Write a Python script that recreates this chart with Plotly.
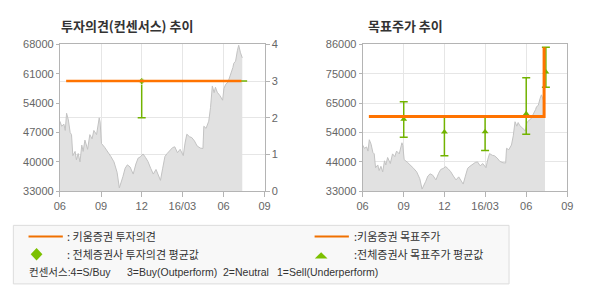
import plotly.graph_objects as go

# ---------------- data ----------------
price_dates = [
    "2015-06-01", "2015-06-05", "2015-06-10", "2015-06-13", "2015-06-16", "2015-06-20",
    "2015-06-24", "2015-06-27", "2015-06-30", "2015-07-05", "2015-07-08", "2015-07-12",
    "2015-07-16", "2015-07-20", "2015-07-23", "2015-07-27", "2015-08-02", "2015-08-07",
    "2015-08-12", "2015-08-16", "2015-08-22", "2015-08-28", "2015-08-30", "2015-09-02",
    "2015-09-09", "2015-09-16", "2015-09-23", "2015-09-30", "2015-10-07", "2015-10-12",
    "2015-10-16", "2015-10-20", "2015-10-25", "2015-10-30", "2015-11-05", "2015-11-12",
    "2015-11-18", "2015-11-23", "2015-11-28", "2015-12-04", "2015-12-10", "2015-12-15",
    "2015-12-21", "2015-12-27", "2016-01-02", "2016-01-07", "2016-01-12", "2016-01-17",
    "2016-01-22", "2016-01-27", "2016-02-02", "2016-02-08", "2016-02-13", "2016-02-19",
    "2016-02-25", "2016-03-03", "2016-03-07", "2016-03-11", "2016-03-17", "2016-03-22",
    "2016-03-28", "2016-04-03", "2016-04-10", "2016-04-16", "2016-04-18", "2016-04-23",
    "2016-04-29", "2016-05-03", "2016-05-07", "2016-05-11", "2016-05-14", "2016-05-18",
    "2016-05-24", "2016-05-30", "2016-06-02", "2016-06-06", "2016-06-11", "2016-06-16",
    "2016-06-22", "2016-06-24", "2016-06-28", "2016-07-02", "2016-07-05", "2016-07-09",
    "2016-07-13",
]
price_vals = [
    49700, 48500, 49000, 47500, 51600, 50000,
    47000, 46500, 41500, 42500, 40500, 42000,
    40000, 44000, 42500, 45200, 43000, 46500,
    45500, 47500, 46500, 50500, 49500, 44400,
    43500, 42500, 41300, 40000, 37500, 33800,
    35500, 36500, 38500, 39300, 38800, 37100,
    39500, 40900, 41200, 41900, 41000, 40100,
    38500, 37100, 38200, 37000, 35600, 38500,
    41300, 42000, 42800, 43400, 43600, 42200,
    43000, 41500, 44500, 46600, 46000, 45800,
    45000, 43800, 43300, 43200, 48500, 48000,
    49700, 53000, 58100, 56500, 57800, 56600,
    55800, 54700, 57500, 58500, 59000, 60500,
    62500, 63500, 64000, 66500, 67800, 66000,
    64800,
]

# Kiwoom investment opinion (3 = Buy) and target price
kiwoom_dates = ["2015-06-15", "2016-07-11"]
kiwoom_opinion = [3, 3]
target_dates = ["2015-06-15", "2016-07-11"]
target_vals = [60000, 85000]

# consensus opinion (avg / min / max)
op_cons_dates = ["2015-12-01", "2016-07-15"]
op_cons_avg = [3, 3]
op_cons_min = [2, 3]
op_cons_max = [3, 3]

# consensus target price (avg / min / max)
tp_cons_dates = ["2015-09-01", "2015-12-01", "2016-03-01", "2016-06-01", "2016-07-15"]
tp_cons_avg = [59000, 54400, 54500, 61000, 76000]
tp_cons_min = [52500, 45800, 47700, 53600, 70500]
tp_cons_max = [65300, 60000, 60000, 74000, 85000]

x_tick_dates = ["2015-06-01", "2015-09-01", "2015-12-01", "2016-03-01", "2016-06-01", "2016-09-01"]
x_tick_text = ["06", "09", "12", "16/03", "06", "09"]
left_price_ticks = [33000, 40000, 47000, 54000, 61000, 68000]
opinion_ticks = [0, 1, 2, 3, 4]
right_price_ticks = [33000, 43600, 54200, 64800, 75400, 86000]
right_price_text = ["33000", "44000", "54000", "65000", "75000", "86000"]

# ---------------- styles ----------------
W, H = 590, 300
ORANGE = "#ff7300"
GREEN = "#72b300"
GREEN_MK = "#7cc000"
AREA_LINE = "#c2c2c2"
AREA_FILL = "#e1e1e1"
GRID = "#e6e6e6"
AXIS = "#b4b4b4"
TICKFONT = dict(family="Liberation Sans, Arial", size=11, color="#666666")
KFONT = "Noto Sans CJK KR"
MIXFONT = "Liberation Sans, Noto Sans CJK KR"


def px(x):
    return x / W


def py(y):
    return 1 - y / H


fig = go.Figure()

# left chart
fig.add_trace(go.Scatter(
    x=price_dates, y=price_vals, xaxis="x", yaxis="y", mode="lines",
    line=dict(color=AREA_LINE, width=1), fill="tozeroy", fillcolor=AREA_FILL,
    hoverinfo="skip", showlegend=False))
fig.add_trace(go.Scatter(
    x=op_cons_dates, y=op_cons_avg, xaxis="x", yaxis="y2", mode="markers",
    marker=dict(symbol="diamond", size=[6, 0], color=GREEN),
    error_y=dict(type="data", symmetric=False,
                 array=[a - b for a, b in zip(op_cons_max, op_cons_avg)],
                 arrayminus=[a - b for a, b in zip(op_cons_avg, op_cons_min)],
                 color=GREEN, thickness=1.5, width=4),
    showlegend=False))
fig.add_trace(go.Scatter(
    x=kiwoom_dates, y=kiwoom_opinion, xaxis="x", yaxis="y2", mode="lines",
    line=dict(color=ORANGE, width=2.5, shape="hv"), showlegend=False))

# right chart
fig.add_trace(go.Scatter(
    x=price_dates, y=price_vals, xaxis="x2", yaxis="y3", mode="lines",
    line=dict(color=AREA_LINE, width=1), fill="tozeroy", fillcolor=AREA_FILL,
    hoverinfo="skip", showlegend=False))
fig.add_trace(go.Scatter(
    x=tp_cons_dates, y=tp_cons_avg, xaxis="x2", yaxis="y3", mode="markers",
    marker=dict(symbol="triangle-up", size=6, color=GREEN),
    error_y=dict(type="data", symmetric=False,
                 array=[a - b for a, b in zip(tp_cons_max, tp_cons_avg)],
                 arrayminus=[a - b for a, b in zip(tp_cons_avg, tp_cons_min)],
                 color=GREEN, thickness=1.5, width=4),
    showlegend=False))
fig.add_trace(go.Scatter(
    x=target_dates, y=target_vals, xaxis="x2", yaxis="y3", mode="lines",
    line=dict(color=ORANGE, width=3, shape="hv"), showlegend=False))

xcommon = dict(type="date", range=["2015-06-01", "2016-09-01"],
               tickmode="array", tickvals=x_tick_dates, ticktext=x_tick_text,
               showgrid=True, gridcolor=GRID, gridwidth=1,
               showline=True, linecolor=AXIS, linewidth=1, mirror=True,
               ticks="outside", ticklen=5, tickcolor=AXIS,
               tickfont=TICKFONT, zeroline=False, fixedrange=True)
ydom = [py(193), py(40)]

fig.update_layout(
    width=W, height=H, autosize=False,
    margin=dict(l=0, r=0, t=0, b=0, pad=0),
    paper_bgcolor="white", plot_bgcolor="white",
    showlegend=False,
    xaxis=dict(domain=[px(55), px(264)], anchor="y", **xcommon),
    yaxis=dict(domain=ydom, anchor="x", range=[33000, 68000],
               tickmode="array", tickvals=left_price_ticks,
               ticktext=[str(v) for v in left_price_ticks],
               showgrid=False, zeroline=False,
               showline=True, linecolor=AXIS, linewidth=1, mirror=True,
               ticks="outside", ticklen=3, tickcolor=AXIS, tickfont=TICKFONT),
    yaxis2=dict(overlaying="y", anchor="x", side="right", range=[0, 4],
                tickmode="array", tickvals=opinion_ticks,
                showgrid=True, gridcolor=GRID, zeroline=False,
                showline=True, linecolor=AXIS, linewidth=1,
                ticks="outside", ticklen=4, tickcolor=AXIS, tickfont=TICKFONT),
    xaxis2=dict(domain=[px(364), px(573)], anchor="y3", **xcommon),
    yaxis3=dict(domain=ydom, anchor="x2", range=[33000, 86000],
                tickmode="array", tickvals=right_price_ticks, ticktext=right_price_text,
                showgrid=True, gridcolor=GRID, zeroline=False,
                showline=True, linecolor=AXIS, linewidth=1, mirror=True,
                ticks="outside", ticklen=3, tickcolor=AXIS, tickfont=TICKFONT),
)

# titles
ann = []
ann.append(dict(text="<b>투자의견(컨센서스) 추이</b>", x=px(54), y=py(20), xref="paper", yref="paper",
                xanchor="left", yanchor="middle", showarrow=False,
                font=dict(family=KFONT, size=13, color="#333333")))
ann.append(dict(text="<b>목표주가 추이</b>", x=px(367), y=py(20), xref="paper", yref="paper",
                xanchor="left", yanchor="middle", showarrow=False,
                font=dict(family=KFONT, size=13, color="#333333")))

# legend box
shapes = []
shapes.append(dict(type="rect", xref="paper", yref="paper",
                   x0=px(7.5), x1=px(513.5), y0=py(289.5), y1=py(228.5),
                   fillcolor="#f8f8f8", line=dict(color="#dcdcdc", width=1), layer="below"))
for x0 in (23, 315):
    shapes.append(dict(type="line", xref="paper", yref="paper",
                       x0=px(x0), x1=px(x0 + 35), y0=py(240), y1=py(240),
                       line=dict(color="#f07000", width=2)))
# diamond
cx, cy = 31.2, 258.5
shapes.append(dict(type="path", xref="paper", yref="paper",
                   path=f"M {px(cx-6)} {py(cy)} L {px(cx)} {py(cy-6.5)} L {px(cx+6)} {py(cy)} L {px(cx)} {py(cy+6.5)} Z",
                   fillcolor=GREEN_MK, line=dict(color=GREEN_MK, width=0)))
# triangle
tx, ty = 321.7, 260
shapes.append(dict(type="path", xref="paper", yref="paper",
                   path=f"M {px(tx-6.5)} {py(ty+3)} L {px(tx)} {py(ty-3.5)} L {px(tx+6.5)} {py(ty+3)} Z",
                   fillcolor=GREEN_MK, line=dict(color=GREEN_MK, width=0)))

legend_texts = [
    (": 키움증권 투자의견", 60, 240, KFONT, 11),
    (":키움증권 목표주가", 353, 240, KFONT, 11),
    (": 전체증권사 투자의견 평균값", 60, 258.5, KFONT, 11),
    (":전체증권사 목표주가 평균값", 353, 258.5, KFONT, 11),
    ("컨센서스:4=S/Buy", 21, 277, MIXFONT, 10.5),
    ("3=Buy(Outperform)", 121, 277, MIXFONT, 10.5),
    ("2=Neutral", 219, 277, MIXFONT, 10.5),
    ("1=Sell(Underperform)", 275, 277, MIXFONT, 10.5),
]
for t, x, y, fam, sz in legend_texts:
    ann.append(dict(text=t, x=px(x), y=py(y), xref="paper", yref="paper",
                    xanchor="left", yanchor="middle", showarrow=False,
                    font=dict(family=fam, size=sz, color="#333333")))

fig.update_layout(annotations=ann, shapes=shapes)

fig.write_html("out.html")
